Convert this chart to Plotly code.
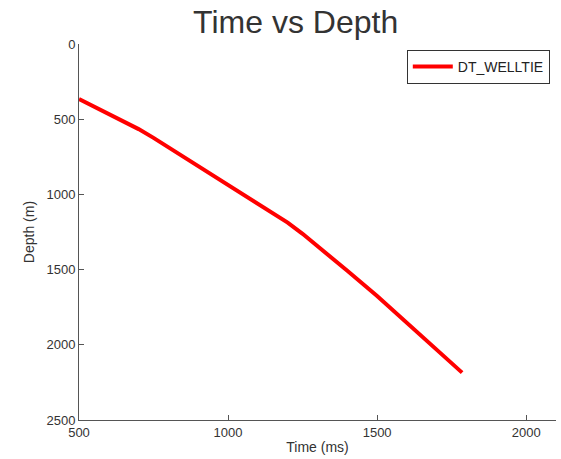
import plotly.graph_objects as go

time_ms = [500, 600, 650, 700, 750, 800, 900, 1000, 1100, 1150, 1200, 1250, 1300, 1400, 1500, 1600, 1700, 1785]
depth_m = [366, 464, 514, 566, 624, 686, 810, 934, 1058, 1121, 1188, 1262, 1343, 1508, 1676, 1853, 2032, 2185]
x_ticks = [500, 1000, 1500, 2000]
y_ticks = [0, 500, 1000, 1500, 2000, 2500]

fig = go.Figure()
fig.add_trace(go.Scatter(x=time_ms, y=depth_m, mode="lines", name="DT_WELLTIE",
                         line=dict(color="#ff0000", width=4)))

font = "Liberation Sans, Arial, sans-serif"
fig.update_layout(
    width=561, height=459,
    margin=dict(l=79, r=5, t=44, b=39),
    paper_bgcolor="white", plot_bgcolor="white",
    title=dict(text="Time vs Depth", x=0.527, xanchor="center", y=0.952, yanchor="middle",
               font=dict(family=font, size=32, color="#333333")),
    font=dict(family=font, size=13, color="#333333"),
    showlegend=True,
    legend=dict(x=0.987, y=0.984, xanchor="right", yanchor="top",
                bordercolor="#333333", borderwidth=1, bgcolor="white",
                font=dict(family=font, size=14, color="#222222"),
                itemwidth=40),
    xaxis=dict(range=[500, 2100], tickvals=x_ticks, ticks="inside", ticklen=5,
               tickcolor="#555555", showline=True, linecolor="#555555", linewidth=1,
               showgrid=False, zeroline=False,
               title=dict(text="Time (ms)", font=dict(size=14), standoff=3),
               tickfont=dict(size=13, color="#333333")),
    yaxis=dict(range=[2500, 0], tickvals=y_ticks, ticks="inside", ticklen=5,
               tickcolor="#555555", showline=True, linecolor="#555555", linewidth=1,
               showgrid=False, zeroline=False,
               title=dict(text="Depth (m)", font=dict(size=14), standoff=8),
               tickfont=dict(size=13, color="#333333")),
)
fig.write_html("out.html")
